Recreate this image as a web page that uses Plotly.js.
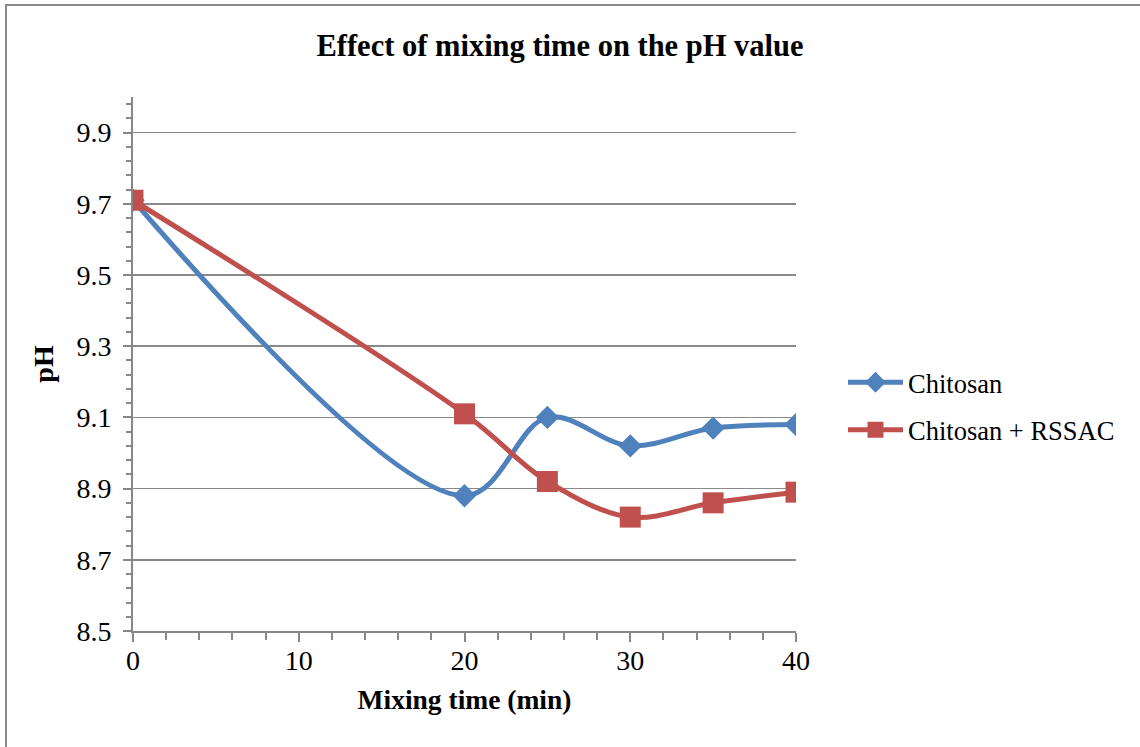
<!DOCTYPE html>
<html>
<head>
<meta charset="utf-8">
<script src="https://cdn.plot.ly/plotly-3.0.1.min.js"></script>
<style>
  html, body { margin: 0; padding: 0; background: #fff; overflow: hidden; }
  #chart { position: absolute; left: 0; top: 0; width: 1140px; height: 747px; }
  #frame { position: absolute; left: 5px; top: 4px; width: 1200px; height: 800px;
           border: 2px solid #8a8a8a; pointer-events: none; box-sizing: border-box; }
</style>
</head>
<body>
<div id="chart"></div>
<div id="frame"></div>
<script>
const mixingTime = [0, 20, 25, 30, 35, 40];
const chitosan = [9.71, 8.88, 9.10, 9.02, 9.07, 9.08];
const chitosanRSSAC = [9.71, 9.11, 8.92, 8.82, 8.86, 8.89];
const seriesNames = ["Chitosan", "Chitosan + RSSAC"];
const xTickVals = [0, 10, 20, 30, 40];

const serif = "'Liberation Serif', 'Times New Roman', serif";
const axisGray = "#878787";

const traces = [
  {
    x: mixingTime, y: chitosan, name: seriesNames[0], legendgroup: "g1",
    type: "scatter", mode: "lines+markers",
    line: { color: "#4F81BD", width: 5, shape: "spline", smoothing: 1 },
    marker: { symbol: "diamond", size: 18, color: "#4F81BD" }
  },
  {
    x: mixingTime, y: chitosanRSSAC, name: seriesNames[1], legendgroup: "g2",
    type: "scatter", mode: "lines+markers",
    line: { color: "#C0504D", width: 5, shape: "spline", smoothing: 1 },
    marker: { symbol: "square", size: 21, color: "#C0504D" }
  }
];

const layout = {
  width: 1140, height: 747,
  paper_bgcolor: "#ffffff", plot_bgcolor: "#ffffff",
  margin: { l: 133, r: 344, t: 97, b: 116 },
  font: { family: serif, color: "#000000", size: 28 },
  title: {
    text: "<b>Effect of mixing time on the pH value</b>",
    font: { family: serif, size: 30.5, color: "#000" },
    x: 560 / 1140, xanchor: "center", xref: "container",
    y: 1 - 45/747, yanchor: "middle"
  },
  xaxis: {
    range: [0, 40],
    tickmode: "array", tickvals: xTickVals, ticktext: xTickVals.map(String),
    showgrid: false, zeroline: false,
    showline: true, linecolor: axisGray, linewidth: 2,
    ticks: "outside", ticklen: 9, tickwidth: 2, tickcolor: axisGray,
    minor: { dtick: 2, tick0: 0, ticks: "outside", ticklen: 7, tickwidth: 2, tickcolor: axisGray, showgrid: false },
    tickfont: { family: serif, size: 28, color: "#000" },
    ticklabelstandoff: -6,
    title: { text: "<b>Mixing time (min)</b>", font: { family: serif, size: 27.5, color: "#000" }, standoff: 15 },
    fixedrange: true
  },
  yaxis: {
    range: [8.5, 10.0],
    tickmode: "linear", tick0: 8.5, dtick: 0.2,
    tickformat: ".1f",
    showgrid: true, gridcolor: "#8a8a8a", gridwidth: 1.5,
    zeroline: false,
    showline: true, linecolor: axisGray, linewidth: 2,
    ticks: "outside", ticklen: 8, tickwidth: 2, tickcolor: axisGray,
    minor: { dtick: 0.04, tick0: 8.5, ticks: "outside", ticklen: 5, tickwidth: 2, tickcolor: axisGray, showgrid: false },
    tickfont: { family: serif, size: 28, color: "#000" },
    ticklabelstandoff: 6,
    title: { text: "<b>pH</b>", font: { family: serif, size: 28, color: "#000" }, standoff: 15 },
    fixedrange: true
  },
  showlegend: true,
  legend: {
    x: (843 - 133) / 663, xanchor: "left",
    y: (631 - 406) / 534, yanchor: "middle",
    font: { family: serif, size: 26.5, color: "#000" },
    bgcolor: "rgba(0,0,0,0)",
    itemwidth: 55,
    tracegroupgap: 10
  }
};

Plotly.newPlot("chart", traces, layout, { displayModeBar: false, staticPlot: true });
</script>
</body>
</html>
